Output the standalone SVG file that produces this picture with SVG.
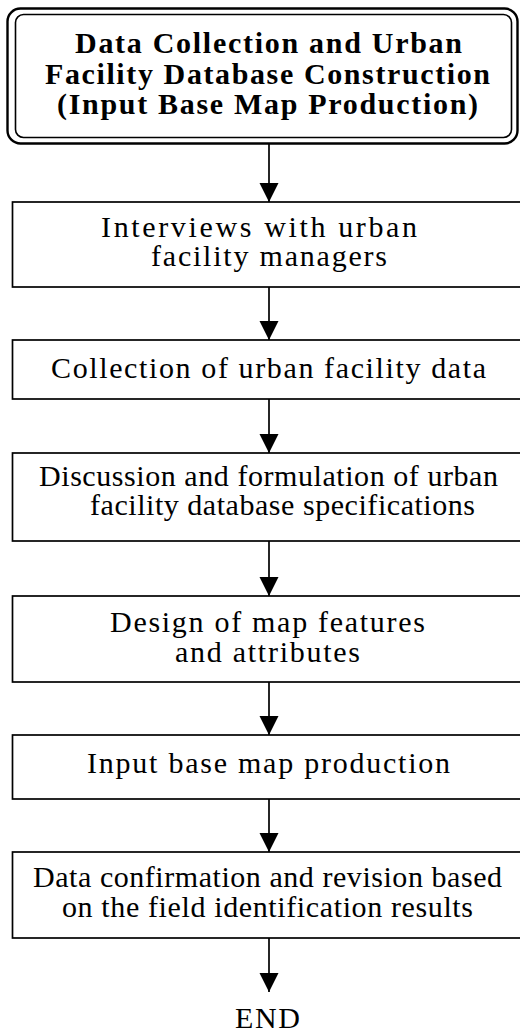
<svg xmlns="http://www.w3.org/2000/svg" width="520" height="1032" viewBox="0 0 520 1032">
  <style>
    .box { fill: #ffffff; stroke: #000000; stroke-width: 1.7; }
    .outer { fill: #ffffff; stroke: #000000; stroke-width: 2.4; }
    .inner { fill: none; stroke: #000000; stroke-width: 1.6; }
    .edge { stroke: #000000; stroke-width: 1.7; fill: none; }
    .head { fill: #000000; stroke: none; }
  </style>
  <defs>
    <marker id="arrow" markerUnits="userSpaceOnUse" markerWidth="20" markerHeight="20" viewBox="0 0 20 19" refX="19" refY="9.5" orient="auto">
      <path class="head" d="M0,0 L19,9.5 L0,19 Z"/>
    </marker>
  </defs>

  <rect width="520" height="1032" fill="#ffffff"/>

  <!-- connectors -->
  <g id="connectors">
    <line class="edge" x1="269" y1="144" x2="269" y2="202" marker-end="url(#arrow)"/>
    <line class="edge" x1="269" y1="287" x2="269" y2="340" marker-end="url(#arrow)"/>
    <line class="edge" x1="269" y1="399" x2="269" y2="453" marker-end="url(#arrow)"/>
    <line class="edge" x1="269" y1="541" x2="269" y2="596" marker-end="url(#arrow)"/>
    <line class="edge" x1="269" y1="682" x2="269" y2="735" marker-end="url(#arrow)"/>
    <line class="edge" x1="269" y1="799" x2="269" y2="852" marker-end="url(#arrow)"/>
    <line class="edge" x1="269" y1="938" x2="269" y2="992" marker-end="url(#arrow)"/>
  </g>

  <!-- all labels share a Times-metric serif face -->
  <g font-family="'Liberation Serif', 'Times New Roman', 'DejaVu Serif', serif" font-size="30" fill="#000000">

    <!-- start: double-bordered rounded box -->
    <g id="start" font-weight="bold">
      <rect class="outer" x="7.5" y="8.5" width="510" height="135" rx="13"/>
      <rect class="inner" x="15.5" y="14.5" width="496" height="123" rx="8"/>
      <text x="75" y="53" textLength="387" lengthAdjust="spacing">Data Collection and Urban</text>
      <text x="45" y="84" textLength="445" lengthAdjust="spacing">Facility Database Construction</text>
      <text x="57" y="114" textLength="421" lengthAdjust="spacing">(Input Base Map Production)</text>
    </g>

    <g id="interviews">
      <rect class="box" x="12.5" y="202" width="520" height="85"/>
      <text x="101" y="237" textLength="316" lengthAdjust="spacing">Interviews with urban</text>
      <text x="151" y="266" textLength="236" lengthAdjust="spacing">facility managers</text>
    </g>

    <g id="collection">
      <rect class="box" x="12.5" y="340" width="520" height="59"/>
      <text x="51" y="378" textLength="435" lengthAdjust="spacing">Collection of urban facility data</text>
    </g>

    <g id="specifications">
      <rect class="box" x="12.5" y="453" width="520" height="88"/>
      <text x="39" y="486" textLength="459" lengthAdjust="spacing">Discussion and formulation of urban</text>
      <text x="90" y="514.5" textLength="385" lengthAdjust="spacing">facility database specifications</text>
    </g>

    <g id="design">
      <rect class="box" x="12.5" y="596" width="520" height="86"/>
      <text x="110" y="632" textLength="315" lengthAdjust="spacing">Design of map features</text>
      <text x="175" y="662" textLength="185" lengthAdjust="spacing">and attributes</text>
    </g>

    <g id="base-map">
      <rect class="box" x="12.5" y="735" width="520" height="64"/>
      <text x="87" y="773" textLength="363" lengthAdjust="spacing">Input base map production</text>
    </g>

    <g id="confirmation">
      <rect class="box" x="12.5" y="852" width="520" height="86"/>
      <text x="33" y="887" textLength="469" lengthAdjust="spacing">Data confirmation and revision based</text>
      <text x="62" y="917" textLength="411" lengthAdjust="spacing">on the field identification results</text>
    </g>

    <g id="end">
      <text x="235" y="1028" textLength="65" lengthAdjust="spacing">END</text>
    </g>
  </g>
</svg>
